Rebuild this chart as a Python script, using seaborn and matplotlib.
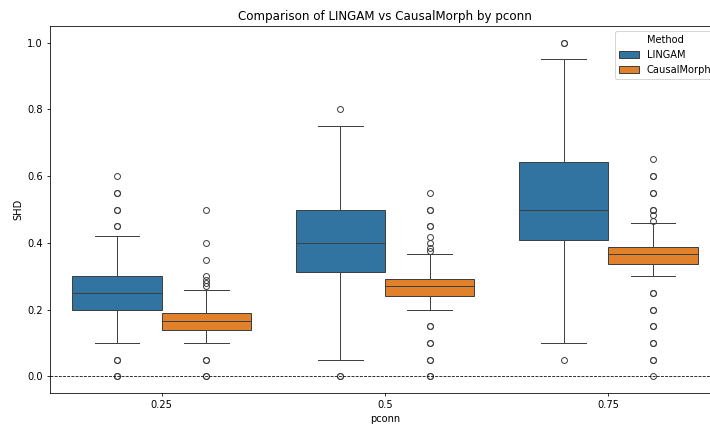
import matplotlib
matplotlib.use("Agg")
import matplotlib.pyplot as plt
import pandas as pd
import seaborn as sns

# Connection probabilities and the two structure-learning methods compared
pconn_levels = [0.25, 0.5, 0.75]
methods = ["LINGAM", "CausalMorph"]

# Normalised SHD per run, one list per (pconn, method) pair
shd_lingam_025 = [0.0, 0.0, 0.05, 0.05, 0.1, 0.15, 0.15, 0.2, 0.2,
                  0.2,
                  0.2, 0.2, 0.25, 0.25, 0.25, 0.25, 0.25, 0.25,
                  0.25,
                  0.25, 0.25, 0.25, 0.3, 0.3, 0.3, 0.3, 0.3,
                  0.3,
                  0.35, 0.42, 0.45, 0.45, 0.5, 0.5, 0.55, 0.55, 0.6]
shd_causalmorph_025 = [0.0, 0.0, 0.05, 0.05, 0.1, 0.1, 0.12, 0.13, 0.14,
                       0.14,
                       0.14, 0.15, 0.15, 0.15, 0.16, 0.16, 0.1667, 0.1667,
                       0.1667,
                       0.1667, 0.17, 0.175, 0.18, 0.18, 0.1875, 0.19, 0.19,
                       0.19,
                       0.22, 0.26, 0.27, 0.28, 0.29, 0.3, 0.35, 0.4, 0.5]
shd_lingam_050 = [0.0, 0.0, 0.05, 0.15, 0.25,
                  0.3125,
                  0.33, 0.35, 0.35, 0.4,
                  0.4,
                  0.4, 0.45, 0.45, 0.5,
                  0.5,
                  0.55, 0.6, 0.65, 0.75, 0.8]
shd_causalmorph_050 = [0.0, 0.0, 0.05, 0.05, 0.1, 0.1, 0.15, 0.15, 0.2, 0.22,
                       0.24,
                       0.24, 0.25, 0.25, 0.25, 0.26, 0.26, 0.2667, 0.2667, 0.27,
                       0.27,
                       0.27, 0.275, 0.28, 0.28, 0.28, 0.2833, 0.29, 0.29, 0.29,
                       0.2917,
                       0.3667, 0.375, 0.3833, 0.4, 0.4167, 0.45, 0.45, 0.5, 0.5, 0.55]
shd_lingam_075 = [0.05, 0.1, 0.2, 0.3, 0.35,
                  0.4083,
                  0.42, 0.45, 0.45, 0.5,
                  0.5,
                  0.5, 0.55, 0.6, 0.6,
                  0.6417,
                  0.7, 0.8, 0.95, 1.0, 1.0]
shd_causalmorph_075 = [0.0, 0.05, 0.05, 0.1, 0.1, 0.15, 0.15, 0.2, 0.2, 0.25, 0.25,
                       0.3, 0.3167, 0.3333,
                       0.3375,
                       0.34, 0.35, 0.35, 0.35, 0.35, 0.35, 0.3583, 0.36, 0.36,
                       0.3625, 0.3625, 0.365, 0.3667,
                       0.3667,
                       0.3667, 0.37, 0.37, 0.375, 0.375, 0.375, 0.3778, 0.38, 0.38,
                       0.3833, 0.385, 0.385, 0.3875,
                       0.3875,
                       0.4, 0.4, 0.42, 0.45, 0.46, 0.4667, 0.4833, 0.5, 0.5,
                       0.55, 0.55, 0.6, 0.6, 0.65]

groups = {
    (0.25, "LINGAM"): shd_lingam_025,
    (0.25, "CausalMorph"): shd_causalmorph_025,
    (0.5, "LINGAM"): shd_lingam_050,
    (0.5, "CausalMorph"): shd_causalmorph_050,
    (0.75, "LINGAM"): shd_lingam_075,
    (0.75, "CausalMorph"): shd_causalmorph_075,
}

rows = []
for (p, m), vals in groups.items():
    for v in vals:
        rows.append({"pconn": p, "Method": m, "SHD": v})
df = pd.DataFrame(rows)

fig = plt.figure(figsize=(10, 427 / 71), dpi=71)
ax = fig.add_axes([50 / 710, 34 / 427, 670 / 710, 367 / 427])

sns.boxplot(data=df, x="pconn", y="SHD", hue="Method",
            order=pconn_levels, hue_order=methods, ax=ax)
ax.axhline(0, color="black", linestyle="--", linewidth=0.8)

ax.set_title("Comparison of LINGAM vs CausalMorph by pconn")
ax.set_xlabel("pconn")
ax.set_ylabel("SHD")
ax.legend(title="Method", loc="upper right")

fig.savefig("out.png", dpi=71)
